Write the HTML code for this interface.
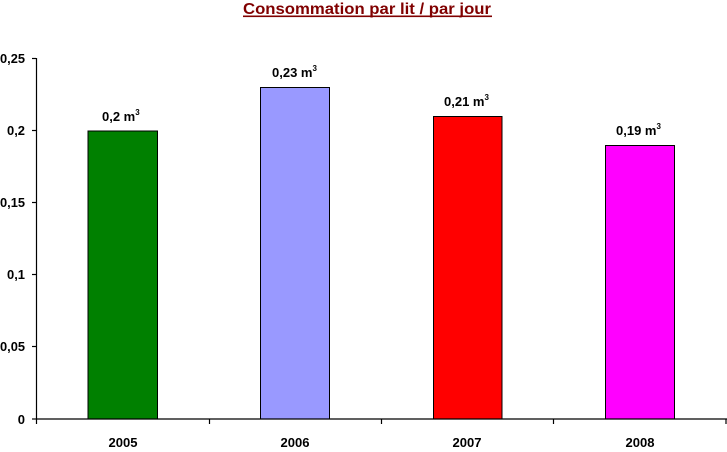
<!DOCTYPE html>
<html><head><meta charset="utf-8"><style>
html,body{margin:0;padding:0;background:#fff;}
svg{display:block;font-family:"Liberation Sans",Arial,sans-serif;font-weight:bold;}
</style></head><body>
<svg width="727" height="452" viewBox="0 0 727 452" xmlns="http://www.w3.org/2000/svg">
<text x="367" y="14" text-anchor="middle" font-size="16" fill="#800000" textLength="248" lengthAdjust="spacingAndGlyphs">Consommation par lit / par jour</text>
<rect x="243" y="15.5" width="249" height="1.6" fill="#800000"/>
<g stroke="#000" stroke-width="1">
<rect x="88" y="131" width="69.5" height="288" fill="#008000"/>
<rect x="260.5" y="87.5" width="69" height="331.5" fill="#9999ff"/>
<rect x="433.5" y="116.5" width="68.5" height="302.5" fill="#ff0000"/>
<rect x="605.5" y="145.5" width="69" height="273.5" fill="#ff00ff"/>
</g>
<g stroke="#000" stroke-width="1.2" fill="none">
<line x1="36.5" y1="58" x2="36.5" y2="424"/>
<line x1="36" y1="419" x2="727" y2="419"/>
<line x1="32" y1="58.5" x2="36" y2="58.5"/>
<line x1="32" y1="130.5" x2="36" y2="130.5"/>
<line x1="32" y1="202.5" x2="36" y2="202.5"/>
<line x1="32" y1="274.5" x2="36" y2="274.5"/>
<line x1="32" y1="346.5" x2="36" y2="346.5"/>
<line x1="32" y1="419" x2="36" y2="419"/>
<line x1="209.5" y1="419" x2="209.5" y2="424"/>
<line x1="381.5" y1="419" x2="381.5" y2="424"/>
<line x1="553.5" y1="419" x2="553.5" y2="424"/>
<line x1="726" y1="419" x2="726" y2="424"/>
</g>
<g font-size="13" text-anchor="end" fill="#000">
<text x="25" y="63" textLength="25" lengthAdjust="spacingAndGlyphs">0,25</text>
<text x="25" y="135" textLength="18" lengthAdjust="spacingAndGlyphs">0,2</text>
<text x="25" y="207" textLength="25" lengthAdjust="spacingAndGlyphs">0,15</text>
<text x="25" y="279" textLength="18" lengthAdjust="spacingAndGlyphs">0,1</text>
<text x="25" y="351" textLength="25" lengthAdjust="spacingAndGlyphs">0,05</text>
<text x="25" y="424">0</text>
</g>
<g font-size="13" text-anchor="middle" fill="#000">
<text x="123" y="447" textLength="29" lengthAdjust="spacingAndGlyphs">2005</text>
<text x="295" y="447" textLength="29" lengthAdjust="spacingAndGlyphs">2006</text>
<text x="467" y="447" textLength="29" lengthAdjust="spacingAndGlyphs">2007</text>
<text x="640" y="447" textLength="29" lengthAdjust="spacingAndGlyphs">2008</text>
</g>
<g font-size="13" fill="#000">
<text x="102" y="121">0,2 m<tspan font-size="8" dy="-6">3</tspan></text>
<text x="272" y="77">0,23 m<tspan font-size="8" dy="-6">3</tspan></text>
<text x="444" y="106">0,21 m<tspan font-size="8" dy="-6">3</tspan></text>
<text x="616" y="135">0,19 m<tspan font-size="8" dy="-6">3</tspan></text>
</g>
</svg>
</body></html>
